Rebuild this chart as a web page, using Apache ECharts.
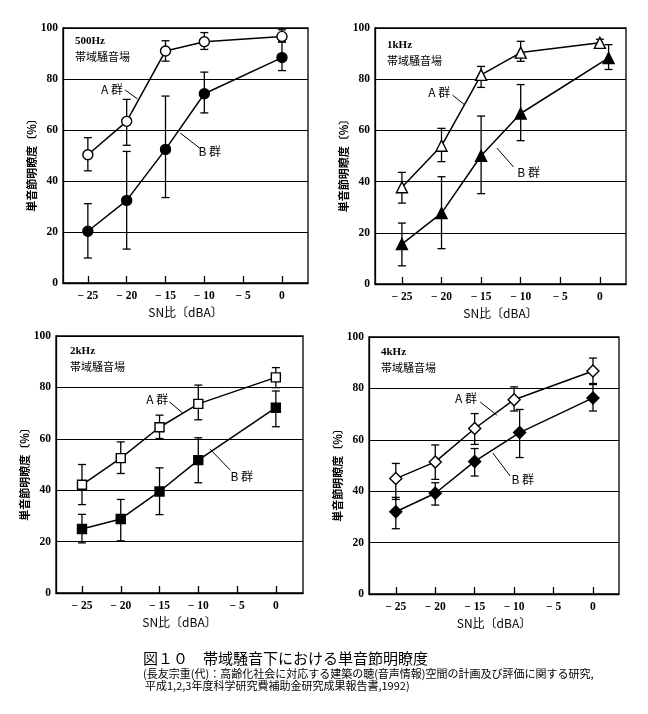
<!DOCTYPE html>
<html><head><meta charset="utf-8">
<script src="https://cdn.jsdelivr.net/npm/echarts@6/dist/echarts.min.js"></script>
<style>html,body{margin:0;padding:0;background:#fff;}#c{width:648px;height:714px;}</style>
</head><body><div id="c"></div>
<script>
// ---- data ----
const xTicks = [-25, -20, -15, -10, -5, 0];
const yTicks = [0, 20, 40, 60, 80, 100];
const panelNames = ['500Hz', '1kHz', '2kHz', '4kHz'];
const fieldName = '帯域騒音場';
const groupNames = ['A 群', 'B 群'];
const xTitle = 'SN比〔dBA〕';
const yTitle = '単音節明瞭度〔%〕';
const captionTitle = '図１０　帯域騒音下における単音節明瞭度';
const captionLine2 = '(長友宗重(代)：高齢化社会に対応する建築の聴(音声情報)空間の計画及び評価に関する研究,';
const captionLine3 = '平成1,2,3年度科学研究費補助金研究成果報告書,1992)';

// 500Hz
const x500A = [-25, -20, -15, -10, 0];
const y500A = [50.3, 63.4, 91.0, 94.6, 96.7];
const lo500A = [44.0, 54.0, 87.0, 91.6, 94.5];
const hi500A = [57.0, 72.0, 95.0, 98.2, 99.3];
const x500B = [-25, -20, -15, -10, 0];
const y500B = [20.3, 32.4, 52.4, 74.2, 88.4];
const lo500B = [9.8, 13.3, 33.5, 66.7, 83.3];
const hi500B = [31.1, 51.6, 73.3, 82.7, 94.5];
// 1kHz
const x1kA = [-25, -20, -15, -10, 0];
const y1kA = [37.8, 54.0, 81.7, 90.4, 94.2];
const lo1kA = [31.6, 47.8, 76.8, 87.0, 92.9];
const hi1kA = [43.6, 60.8, 85.0, 94.8, 95.6];
const x1kB = [-25, -20, -15, -10, 1.1];
const y1kB = [15.6, 27.7, 50.1, 66.6, 88.3];
const lo1kB = [7.1, 13.8, 35.3, 56.0, 83.8];
const hi1kB = [23.8, 41.9, 65.6, 77.9, 93.5];
// 2kHz
const x2kA = [-25, -20, -15, -10, 0];
const y2kA = [42.1, 52.5, 64.5, 73.6, 83.9];
const lo2kA = [34.4, 46.5, 60.1, 67.4, 79.9];
const hi2kA = [50.0, 58.8, 69.2, 80.9, 87.7];
const x2kB = [-25, -20, -15, -10, 0];
const y2kB = [24.9, 28.8, 39.5, 51.7, 72.1];
const lo2kB = [19.5, 20.3, 30.5, 42.9, 64.7];
const hi2kB = [30.6, 36.4, 48.7, 60.4, 78.6];
// 4kHz
const x4kA = [-25, -20, -15, -10, 0];
const y4kA = [44.9, 51.4, 64.4, 75.6, 86.8];
const lo4kA = [36.8, 44.6, 58.2, 71.2, 81.9];
const hi4kA = [50.8, 58.0, 70.2, 80.6, 91.8];
const x4kB = [-25, -20, -15, -9.3, 0];
const y4kB = [32.0, 39.2, 51.6, 62.8, 76.3];
const lo4kB = [25.4, 34.6, 45.9, 53.1, 71.2];
const hi4kB = [37.6, 43.3, 56.6, 71.8, 81.5];

// ---- layout ----
const panels = [
  {grid:{left:63, top:28, width:245, height:255}, xr:[-28.2,3.35], symbol:'circle', size:10,
   A:[x500A,y500A,lo500A,hi500A], B:[x500B,y500B,lo500B,hi500B],
   text:[75,36], annA:{t:[-21.9,76], l:[-20.2,75.7,-18.6,72.2]}, annB:{t:[-9.3,51.4], l:[-13.1,58.8,-10.6,52.9]}},
  {grid:{left:375, top:28, width:251, height:256}, xr:[-28.4,3.3], symbol:'triangle', size:11,
   A:[x1kA,y1kA,lo1kA,hi1kA], B:[x1kB,y1kB,lo1kB,hi1kB],
   text:[387,40], annA:{t:[-20.3,75], l:[-18.6,73.8,-17.05,69.9]}, annB:{t:[-9.0,43.75], l:[-13.0,53.1,-10.9,45.7]}},
  {grid:{left:56, top:336, width:247, height:257}, xr:[-28.35,3.5], symbol:'rect', size:9,
   A:[x2kA,y2kA,lo2kA,hi2kA], B:[x2kB,y2kB,lo2kB,hi2kB],
   text:[70,346], annA:{t:[-15.3,75.5], l:[-13.7,74.3,-12.0,70.0]}, annB:{t:[-4.4,45.5], l:[-8.5,56.0,-5.9,47.9]}},
  {grid:{left:369, top:337, width:250, height:257}, xr:[-28.4,3.3], symbol:'diamond', size:12,
   A:[x4kA,y4kA,lo4kA,hi4kA], B:[x4kB,y4kB,lo4kB,hi4kB],
   text:[381,347], annA:{t:[-16.1,75.9], l:[-14.3,74.7,-12.2,69.6]}, annB:{t:[-8.9,44.7], l:[-12.7,54.9,-10.5,45.9]}}
];

const serif = '"Liberation Serif","DejaVu Serif",serif';
const cjk = '"Noto Sans CJK JP","Noto Sans CJK SC",sans-serif';

function errRender(params, api) {
  const x = api.value(0), lo = api.value(1), hi = api.value(2);
  const p1 = api.coord([x, lo]), p2 = api.coord([x, hi]);
  const w = 4;
  const st = {stroke:'#000', lineWidth:1.3};
  return {type:'group', children:[
    {type:'line', shape:{x1:p1[0], y1:p1[1], x2:p2[0], y2:p2[1]}, style:st},
    {type:'line', shape:{x1:p1[0]-w, y1:p1[1], x2:p1[0]+w, y2:p1[1]}, style:st},
    {type:'line', shape:{x1:p2[0]-w, y1:p2[1], x2:p2[0]+w, y2:p2[1]}, style:st}
  ]};
}

const grids = [], xAxes = [], yAxes = [], series = [], graphics = [];
panels.forEach((p, i) => {
  grids.push(Object.assign({show:true, borderColor:'#000', borderWidth:1.3, backgroundColor:'transparent'}, p.grid));
  xAxes.push({type:'value', gridIndex:i, min:p.xr[0], max:p.xr[1],
    name:xTitle, nameLocation:'middle', nameGap:23,
    nameTextStyle:{fontFamily:cjk, fontSize:12, color:'#000'},
    axisLine:{show:true, onZero:false, lineStyle:{color:'#000', width:1.3}},
    axisTick:{show:true, inside:true, length:7, customValues:xTicks, lineStyle:{color:'#000', width:1.3}},
    axisLabel:{customValues:xTicks, margin:7, fontFamily:serif, fontWeight:'bold', fontSize:11.5, color:'#000',
      formatter:v => v < 0 ? '− ' + Math.abs(v) : String(v)},
    splitLine:{show:false}});
  yAxes.push({type:'value', gridIndex:i, min:0, max:100, interval:20,
    name:yTitle, nameLocation:'middle', nameGap:26, nameRotate:90,
    nameTextStyle:{fontFamily:cjk, fontSize:11, fontWeight:'bold', color:'#000', padding:[0, 14, 0, 0]},
    axisLine:{show:true, onZero:false, lineStyle:{color:'#000', width:1.3}},
    axisTick:{show:false},
    axisLabel:{margin:5, fontFamily:serif, fontWeight:'bold', fontSize:11.5, color:'#000'},
    splitLine:{show:true, lineStyle:{color:'#000', width:1.1}}});
  ['A','B'].forEach((g, gi) => {
    const d = p[g];
    const pts = d[0].map((x, k) => [x, d[1][k]]);
    const errs = d[0].map((x, k) => [x, d[2][k], d[3][k]]);
    series.push({type:'custom', xAxisIndex:i, yAxisIndex:i, renderItem:errRender, data:errs,
      encode:{x:0, y:[1,2]}, z:2, silent:true, clip:false});
    series.push({type:'line', xAxisIndex:i, yAxisIndex:i, data:pts, z:3, silent:true,
      symbol:p.symbol, symbolSize:p.size, showAllSymbol:true,
      lineStyle:{color:'#000', width:1.5},
      itemStyle:{color: gi === 0 ? '#fff' : '#000', borderColor:'#000', borderWidth:1.4, opacity:1}});
  });
  const ann = [[p.annA, groupNames[0]], [p.annB, groupNames[1]]];
  series.push({type:'custom', xAxisIndex:i, yAxisIndex:i, silent:true, z:4, clip:false,
    data:ann.map(a => [a[0].t[0], a[0].t[1], a[0].l[0], a[0].l[1], a[0].l[2], a[0].l[3]]),
    encode:{x:0, y:1},
    renderItem:(params, api) => {
      const t = api.coord([api.value(0), api.value(1)]);
      const a = api.coord([api.value(2), api.value(3)]);
      const b = api.coord([api.value(4), api.value(5)]);
      return {type:'group', children:[
        {type:'line', shape:{x1:a[0], y1:a[1], x2:b[0], y2:b[1]}, style:{stroke:'#000', lineWidth:1}},
        {type:'text', x:t[0], y:t[1], style:{text:ann[params.dataIndex][1], font:'12px ' + cjk, fill:'#000', align:'center', verticalAlign:'middle'}}
      ]};
    }});
  graphics.push({type:'text', left:p.text[0], top:p.text[1], style:{text:panelNames[i], font:'bold 11px ' + serif, fill:'#000'}});
  graphics.push({type:'text', left:p.text[0], top:p.text[1] + 15, style:{text:fieldName, font:'11px ' + cjk, fill:'#000'}});
});

graphics.push({type:'text', left:143, top:651, style:{text:captionTitle, font:'15px ' + cjk, fill:'#000'}});
graphics.push({type:'text', left:143, top:668, style:{text:captionLine2, font:'11px ' + cjk, fill:'#000'}});
graphics.push({type:'text', left:145, top:680, style:{text:captionLine3, font:'11px ' + cjk, fill:'#000'}});

const chart = echarts.init(document.getElementById('c'), null, {renderer:'canvas'});
chart.setOption({animation:false, backgroundColor:'#fff', grid:grids, xAxis:xAxes, yAxis:yAxes, series:series, graphic:graphics});
</script></body></html>
